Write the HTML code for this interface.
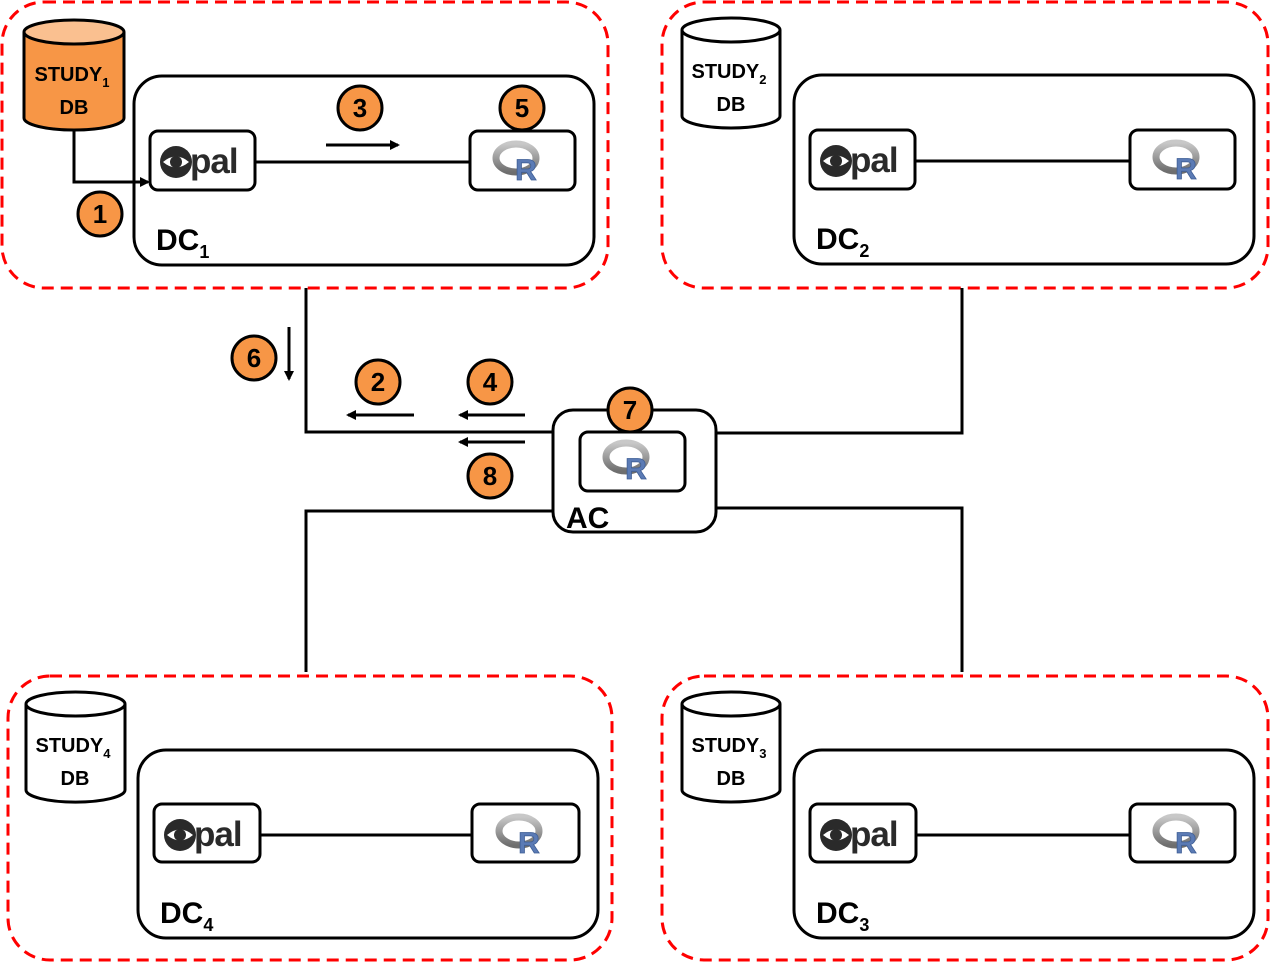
<!DOCTYPE html>
<html><head><meta charset="utf-8"><style>
html,body{margin:0;padding:0;background:#fff;}
svg{display:block;}
text{font-family:"Liberation Sans",sans-serif;font-weight:bold;}
.c{fill:#F79646;stroke:#000;stroke-width:3;}
.n{font-size:26px;text-anchor:middle;}
.pal{font-size:35px;fill:#2a2a2a;letter-spacing:-1px;}
.r{font-size:30px;fill:#5b7bb5;text-anchor:middle;stroke:#3f5f96;stroke-width:0.8;}
</style></head><body>
<svg width="1271" height="963" viewBox="0 0 1271 963" xmlns="http://www.w3.org/2000/svg">
<defs>
<marker id="ah" markerWidth="10" markerHeight="10" refX="8" refY="5" orient="auto" markerUnits="userSpaceOnUse"><path d="M0,0 L10,5 L0,10 z" fill="#000"/></marker>
<linearGradient id="rg" x1="0" y1="0" x2="0" y2="1"><stop offset="0" stop-color="#c8c8c8"/><stop offset="1" stop-color="#6e6e6e"/></linearGradient>
<g id="opalIcon"><circle cx="0" cy="0" r="16" fill="#2a2a2a"/><path d="M-13,0 Q0,-11 13,0 Q0,11 -13,0z" fill="#fff"/><circle cx="0" cy="0" r="6" fill="#2a2a2a"/></g>
<g id="rIcon"><ellipse cx="0" cy="0" rx="20" ry="14" fill="none" stroke="url(#rg)" stroke-width="7"/></g>
</defs>
<g fill="none" stroke="#f00" stroke-width="3" stroke-dasharray="12,7">
<rect x="2" y="2" width="606" height="286" rx="42"/>
<rect x="662" y="2" width="606" height="286" rx="42"/>
<rect x="8" y="676" width="604" height="284" rx="42"/>
<rect x="662" y="676" width="606" height="284" rx="42"/>
</g>
<g fill="none" stroke="#000" stroke-width="3">
<polyline points="306,288 306,432 553,432"/>
<polyline points="716,433 962,433 962,288"/>
<polyline points="306,672 306,511 553,511"/>
<polyline points="716,508 962,508 962,672"/>
</g>
<g stroke="#000" stroke-width="3">
<rect x="134" y="76" width="460" height="189" rx="28" fill="#fff"/>
<line x1="255" y1="162" x2="470" y2="162"/>
<rect x="150" y="131" width="105" height="59" rx="8" fill="#fff"/>
<rect x="470" y="131" width="105" height="59" rx="8" fill="#fff"/>
<rect x="794" y="75" width="460" height="189" rx="28" fill="#fff"/>
<line x1="915" y1="161" x2="1130" y2="161"/>
<rect x="810" y="130" width="105" height="59" rx="8" fill="#fff"/>
<rect x="1130" y="130" width="105" height="59" rx="8" fill="#fff"/>
<rect x="138" y="750" width="460" height="188" rx="28" fill="#fff"/>
<line x1="260" y1="835" x2="472" y2="835"/>
<rect x="154" y="804" width="106" height="58" rx="8" fill="#fff"/>
<rect x="472" y="804" width="107" height="58" rx="8" fill="#fff"/>
<rect x="794" y="750" width="460" height="188" rx="28" fill="#fff"/>
<line x1="916" y1="835" x2="1130" y2="835"/>
<rect x="810" y="804" width="106" height="58" rx="8" fill="#fff"/>
<rect x="1130" y="804" width="105" height="58" rx="8" fill="#fff"/>
<rect x="553" y="410" width="163" height="122" rx="20" fill="#fff"/>
<rect x="580" y="432" width="105" height="59" rx="8" fill="#fff"/>
</g>
<use href="#opalIcon" x="176" y="162"/><text class="pal" x="190" y="173">pal</text>
<use href="#opalIcon" x="836" y="161"/><text class="pal" x="850" y="172">pal</text>
<use href="#opalIcon" x="180" y="835"/><text class="pal" x="194" y="846">pal</text>
<use href="#opalIcon" x="836" y="835"/><text class="pal" x="850" y="846">pal</text>
<use href="#rIcon" x="516" y="158"/><text class="r" x="526" y="180">R</text>
<use href="#rIcon" x="1176" y="157"/><text class="r" x="1186" y="179">R</text>
<use href="#rIcon" x="519" y="831"/><text class="r" x="529" y="853">R</text>
<use href="#rIcon" x="1176" y="831"/><text class="r" x="1186" y="853">R</text>
<use href="#rIcon" x="626" y="457"/><text class="r" x="636" y="479">R</text>
<g stroke="#000" stroke-width="3">
<path d="M24,32 L24,118 A50,12 0 0 0 124,118 L124,32" fill="#F79646"/>
<ellipse cx="74" cy="32" rx="50" ry="12" fill="#FAC090"/>
<path d="M682,30 L682,116 A49,12 0 0 0 780,116 L780,30" fill="#fff"/>
<ellipse cx="731" cy="30" rx="49" ry="12" fill="#fff"/>
<path d="M26,704 L26,790 A49,12 0 0 0 125,790 L125,704" fill="#fff"/>
<ellipse cx="75.5" cy="704" rx="49.5" ry="12" fill="#fff"/>
<path d="M682,704 L682,790 A49,12 0 0 0 780,790 L780,704" fill="#fff"/>
<ellipse cx="731" cy="704" rx="49" ry="12" fill="#fff"/>
</g>
<g font-size="20" text-anchor="middle">
<text x="72" y="81">STUDY<tspan font-size="13" dy="6">1</tspan></text><text x="74" y="114">DB</text>
<text x="729" y="78">STUDY<tspan font-size="13" dy="6">2</tspan></text><text x="731" y="111">DB</text>
<text x="73" y="752">STUDY<tspan font-size="13" dy="6">4</tspan></text><text x="75" y="785">DB</text>
<text x="729" y="752">STUDY<tspan font-size="13" dy="6">3</tspan></text><text x="731" y="785">DB</text>
</g>
<g font-size="30">
<text x="156" y="250">DC<tspan font-size="18" dy="8">1</tspan></text>
<text x="816" y="249">DC<tspan font-size="18" dy="8">2</tspan></text>
<text x="160" y="923">DC<tspan font-size="18" dy="8">4</tspan></text>
<text x="816" y="923">DC<tspan font-size="18" dy="8">3</tspan></text>
<text x="566" y="528">AC</text>
</g>
<g stroke="#000" stroke-width="3" fill="none" marker-end="url(#ah)">
<polyline points="74,130 74,182 148,182"/>
<line x1="326" y1="145" x2="398" y2="145"/>
<line x1="289" y1="327" x2="289" y2="379"/>
<line x1="414" y1="415" x2="348" y2="415"/>
<line x1="525" y1="415" x2="460" y2="415"/>
<line x1="525" y1="442" x2="460" y2="442"/>
</g>
<g>
<circle class="c" cx="100" cy="214" r="22"/><text class="n" x="100" y="223">1</text>
<circle class="c" cx="360" cy="108" r="22"/><text class="n" x="360" y="117">3</text>
<circle class="c" cx="522" cy="108" r="22"/><text class="n" x="522" y="117">5</text>
<circle class="c" cx="254" cy="358" r="22"/><text class="n" x="254" y="367">6</text>
<circle class="c" cx="378" cy="382" r="22"/><text class="n" x="378" y="391">2</text>
<circle class="c" cx="490" cy="382" r="22"/><text class="n" x="490" y="391">4</text>
<circle class="c" cx="630" cy="410" r="22"/><text class="n" x="630" y="419">7</text>
<circle class="c" cx="490" cy="476" r="22"/><text class="n" x="490" y="485">8</text>
</g>
</svg>
</body></html>
